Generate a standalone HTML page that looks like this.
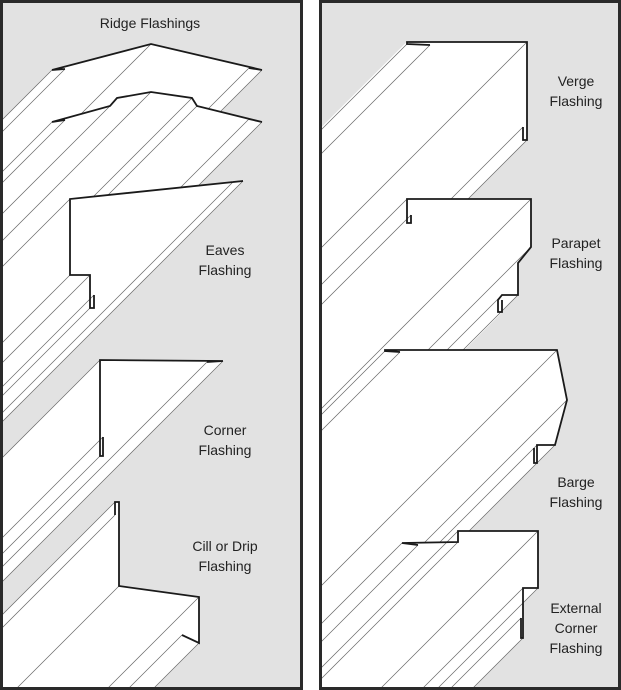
<!DOCTYPE html>
<html><head><meta charset="utf-8"><style>
html,body{margin:0;padding:0;background:#fff;width:621px;height:690px;overflow:hidden;}
svg{display:block}
text{font-family:"Liberation Sans",sans-serif;font-size:14px;fill:#222;text-anchor:middle}
</style></head><body>
<svg id="s" width="621" height="690" viewBox="0 0 621 690" xmlns="http://www.w3.org/2000/svg">
<defs>
<clipPath id="cl"><rect x="3" y="3" width="297" height="684"/></clipPath>
<clipPath id="cr"><rect x="322" y="3" width="296" height="684"/></clipPath>
</defs>
<rect x="1.5" y="1.5" width="300" height="687" fill="#e2e2e2" stroke="#2a2a2a" stroke-width="3"/>
<rect x="320.5" y="1.5" width="299" height="687" fill="#e2e2e2" stroke="#2a2a2a" stroke-width="3"/>
<g id="gl" clip-path="url(#cl)"></g>
<g id="gr" clip-path="url(#cr)"></g>
<text x="150" y="28">Ridge Flashings</text>
<text x="225" y="255">Eaves</text><text x="225" y="275">Flashing</text>
<text x="225" y="435">Corner</text><text x="225" y="455">Flashing</text>
<text x="225" y="551">Cill or Drip</text><text x="225" y="571">Flashing</text>
<text x="576" y="86">Verge</text><text x="576" y="106">Flashing</text>
<text x="576" y="248">Parapet</text><text x="576" y="268">Flashing</text>
<text x="576" y="487">Barge</text><text x="576" y="507">Flashing</text>
<text x="576" y="613">External</text><text x="576" y="633">Corner</text><text x="576" y="653">Flashing</text>
</svg>
<script>
var NS="http://www.w3.org/2000/svg";
function shape(gid,pts){
 var g=document.getElementById(gid),L=800,d="";
 for(var i=0;i<pts.length-1;i++){
  var a=pts[i],b=pts[i+1];
  var q=[a,b,[b[0]-L,b[1]+L],[a[0]-L,a[1]+L]];
  var cr=(b[0]-a[0])*L-(b[1]-a[1])*(-L);
  if(cr<0)q.reverse();
  d+="M"+q[0][0]+","+q[0][1]+"L"+q[1][0]+","+q[1][1]+"L"+q[2][0]+","+q[2][1]+"L"+q[3][0]+","+q[3][1]+"Z";
 }
 var p=document.createElementNS(NS,"path");p.setAttribute("d",d);p.setAttribute("fill","#fff");p.setAttribute("fill-rule","nonzero");p.setAttribute("stroke","#fff");p.setAttribute("stroke-width","0.6");g.appendChild(p);
 var ld="",used=[];
 for(var i=0;i<pts.length;i++){
  var a=pts[i],k=a[0]+a[1],ok=true;
  for(var j=0;j<used.length;j++){if(Math.abs(used[j]-k)<9){ok=false;break;}}
  if(!ok)continue;used.push(k);
  ld+="M"+a[0]+","+a[1]+"l"+(-L)+","+L;
 }
 var l=document.createElementNS(NS,"path");l.setAttribute("d",ld);l.setAttribute("stroke","#666");l.setAttribute("stroke-width","0.7");l.setAttribute("fill","none");g.appendChild(l);
 var s="";for(var i=0;i<pts.length;i++)s+=pts[i][0]+","+pts[i][1]+" ";
 var pl=document.createElementNS(NS,"polyline");pl.setAttribute("points",s);pl.setAttribute("fill","none");pl.setAttribute("stroke","#1a1a1a");pl.setAttribute("stroke-width","1.8");pl.setAttribute("stroke-linejoin","miter");g.appendChild(pl);
}
shape("gl",[[65,69],[52,70],[151,44],[262,70],[249,68]]);
shape("gl",[[65,120],[52,122],[110,106],[117,98],[151,92],[192,98],[197,106],[262,122],[249,119]]);
shape("gl",[[233,182],[243,181],[70,199],[70,275],[90,275],[90,308],[94,308],[94,295]]);
shape("gl",[[207,362],[223,361],[100,360],[100,456],[103,456],[103,437]]);
shape("gl",[[115,515],[115,502],[119,502],[119,586],[199,597],[199,643],[182,635]]);
shape("gr",[[430,45],[407,44],[407,42],[527,42],[527,140],[523,140],[523,127]]);
shape("gr",[[411,215],[411,223],[407,223],[407,199],[531,199],[531,247],[518,263],[518,295],[502,295],[498,300],[498,312],[502,312],[502,300]]);
shape("gr",[[400,352],[385,351],[385,350],[557,350],[567,400],[555,445],[537,445],[537,463],[534,463],[534,448]]);
shape("gr",[[418,545],[402,543],[458,542],[458,531],[538,531],[538,588],[523,588],[523,638],[521,638],[521,618]]);
</script>
</body></html>
